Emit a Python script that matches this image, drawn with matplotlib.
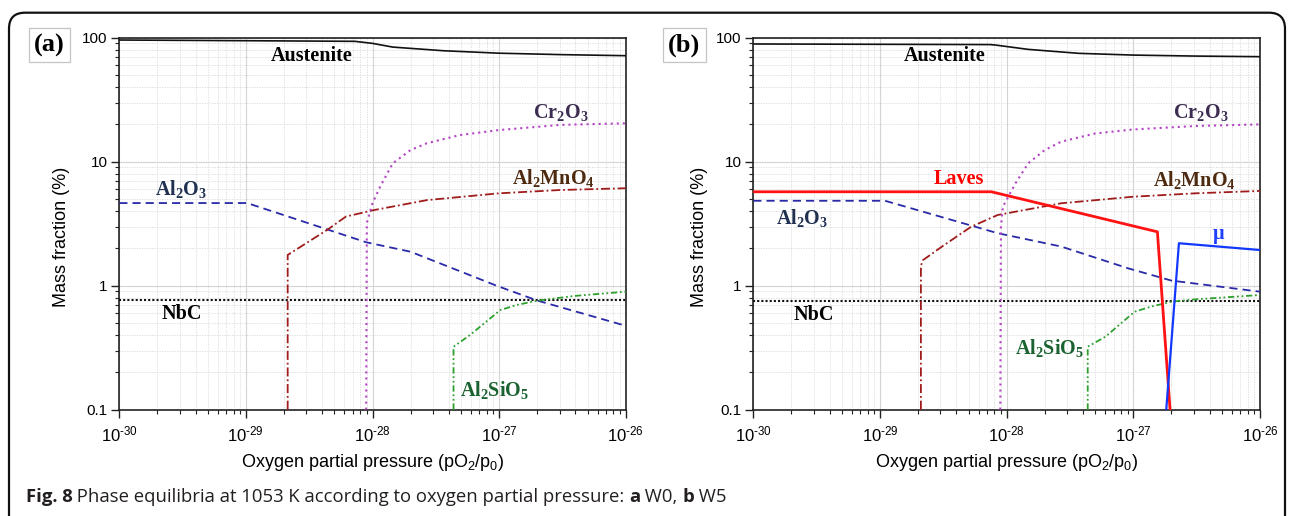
import matplotlib
matplotlib.use("Agg")
import numpy as np
import matplotlib.pyplot as plt
from matplotlib.patches import FancyBboxPatch
from matplotlib.transforms import IdentityTransform
from matplotlib.ticker import FixedLocator, LogLocator, NullFormatter, FuncFormatter

plt.rcParams["font.family"] = ["Liberation Sans", "DejaVu Sans"]
plt.rcParams["mathtext.fontset"] = "custom"
plt.rcParams["mathtext.rm"] = "Liberation Sans"
plt.rcParams["mathtext.it"] = "Liberation Sans:italic"
plt.rcParams["mathtext.bf"] = "Liberation Serif:bold"

# ---- data: x = log10(pO2/p0), y = mass fraction (%) ----
# (a) W0
aus_a_x = [-30.0, -28.14, -28.0, -27.84, -27.44, -27.0, -26.5, -26.0]
aus_a_y = [95.8, 93.5, 90.0, 84.0, 78.5, 75.0, 73.0, 71.6]
al2o3_a_x = [-30.0, -28.99, -28.05, -27.70, -27.02, -26.70, -26.0]
al2o3_a_y = [4.64, 4.64, 2.24, 1.88, 1.0, 0.76, 0.475]
nbc_a_x = [-30.0, -26.0]
nbc_a_y = [0.765, 0.765]
mn_a_x = [-28.67, -28.67, -28.36, -28.21, -27.99, -27.57, -27.0, -26.52, -26.0]
mn_a_y = [0.1, 1.77, 2.81, 3.61, 4.07, 4.90, 5.56, 5.91, 6.11]
cr_a_x = [-28.05, -28.045, -28.0, -27.94, -27.84, -27.70, -27.57, -27.31, -27.0, -26.52, -26.0]
cr_a_y = [0.1, 3.2, 4.62, 6.28, 9.70, 12.4, 14.1, 16.4, 18.0, 19.8, 20.4]
si_a_x = [-27.36, -27.36, -27.23, -26.99, -26.86, -26.70, -26.41, -26.0]
si_a_y = [0.1, 0.322, 0.40, 0.637, 0.70, 0.757, 0.826, 0.895]

# (b) W5
aus_b_x = [-30.0, -28.13, -28.09, -27.83, -27.43, -27.0, -26.51, -26.0]
aus_b_y = [89.0, 88.0, 87.3, 80.5, 74.8, 72.4, 71.1, 70.3]
laves_b_x = [-30.0, -28.12, -26.81, -26.71]
laves_b_y = [5.72, 5.72, 2.72, 0.1]
mu_b_x = [-26.74, -26.64, -26.0]
mu_b_y = [0.1, 2.20, 1.94]
al2o3_b_x = [-30.0, -28.96, -28.07, -27.57, -27.04, -26.70, -26.0]
al2o3_b_y = [4.84, 4.84, 2.65, 2.07, 1.38, 1.10, 0.895]
nbc_b_x = [-30.0, -26.0]
nbc_b_y = [0.753, 0.753]
mn_b_x = [-28.677, -28.677, -28.66, -28.51, -28.28, -28.07, -27.57, -27.0, -26.51, -26.0]
mn_b_y = [0.1, 1.45, 1.61, 2.07, 2.99, 3.72, 4.62, 5.22, 5.56, 5.81]
cr_b_x = [-28.05, -28.045, -28.03, -27.93, -27.83, -27.70, -27.57, -27.30, -27.0, -26.51, -26.0]
cr_b_y = [0.1, 3.0, 4.33, 6.7, 9.7, 12.4, 14.5, 16.9, 18.2, 19.4, 20.0]
si_b_x = [-27.36, -27.36, -27.22, -26.99, -26.86, -26.70, -26.51, -26.0]
si_b_y = [0.1, 0.322, 0.388, 0.617, 0.678, 0.743, 0.776, 0.841]

x_tick_exp = [-30, -29, -28, -27, -26]
y_ticks = [0.1, 1, 10, 100]
y_tick_labels = ["0.1", "1", "10", "100"]

W, H = 1293, 516
fig = plt.figure(figsize=(W / 100, H / 100), dpi=100)
fig.patch.set_facecolor("white")

ax_a = fig.add_axes([119.3 / W, (H - 409.7) / H, 506.4 / W, 372.0 / H])
ax_b = fig.add_axes([753.3 / W, (H - 409.7) / H, 506.7 / W, 372.0 / H])


def pw(v):
    return 10.0 ** np.asarray(v, dtype=float)


def x_fmt(v, pos):
    return r"$10^{\text{%d}}$" % round(np.log10(v))


def y_fmt(v, pos):
    i = int(np.argmin([abs(np.log10(t) - np.log10(v)) for t in y_ticks]))
    return y_tick_labels[i]


def style_axes(ax):
    ax.set_xscale("log")
    ax.set_yscale("log")
    ax.set_xlim(pw(x_tick_exp[0]), pw(x_tick_exp[-1]))
    ax.set_ylim(y_ticks[0], y_ticks[-1])
    ax.xaxis.set_major_locator(FixedLocator(pw(x_tick_exp)))
    ax.xaxis.set_major_formatter(FuncFormatter(x_fmt))
    ax.xaxis.set_minor_locator(LogLocator(base=10, subs=np.arange(2, 10), numticks=200))
    ax.xaxis.set_minor_formatter(NullFormatter())
    ax.yaxis.set_major_locator(FixedLocator(y_ticks))
    ax.yaxis.set_major_formatter(FuncFormatter(y_fmt))
    ax.yaxis.set_minor_locator(LogLocator(base=10, subs=np.arange(2, 10), numticks=200))
    ax.yaxis.set_minor_formatter(NullFormatter())
    ax.tick_params(which="major", direction="out", length=5.5, width=1.0, color="#222222",
                   labelsize=11, pad=3)
    ax.tick_params(which="minor", direction="out", length=3.0, width=0.8, color="#222222")
    ax.tick_params(axis="x", which="major", pad=5, labelsize=12)
    for s in ax.spines.values():
        s.set_linewidth(1.2)
        s.set_color("#222222")
    ax.grid(which="major", color="#d4d4d4", lw=0.8, ls="-")
    ax.grid(which="minor", color="#d9d9d9", lw=0.6, ls=(0, (1.5, 1.5)))
    ax.set_axisbelow(True)
    ax.set_xlabel(r"Oxygen partial pressure (pO$_2$/p$_0$)", fontsize=13)
    ax.set_ylabel("Mass fraction (%)", fontsize=13)
    ax.xaxis.set_label_coords(0.501, -0.114)


style_axes(ax_a)
style_axes(ax_b)
ax_a.yaxis.set_label_coords(-0.098, 0.464)
ax_b.yaxis.set_label_coords(-0.089, 0.464)

c_al2o3 = "#2a2aa8"
c_cr = "#b444c4"
c_mn = "#a01c1c"
c_si = "#2ea02e"

styles = {
    "aus": dict(color="#111111", lw=1.2, ls="-"),
    "al2o3": dict(color=c_al2o3, lw=1.3, ls=(0, (4.5, 2.8))),
    "nbc": dict(color="#111111", lw=1.5, ls=(0, (1.0, 1.0))),
    "mn": dict(color=c_mn, lw=1.3, ls=(0, (5.0, 1.6, 1.0, 1.6))),
    "cr": dict(color=c_cr, lw=1.5, ls=(0, (1.0, 1.9))),
    "si": dict(color=c_si, lw=1.3, ls=(0, (3.5, 1.5, 1.0, 1.5, 1.0, 1.5))),
}

for ax, series in (
    (ax_a, [("aus", aus_a_x, aus_a_y), ("nbc", nbc_a_x, nbc_a_y), ("al2o3", al2o3_a_x, al2o3_a_y),
            ("mn", mn_a_x, mn_a_y), ("cr", cr_a_x, cr_a_y), ("si", si_a_x, si_a_y)]),
    (ax_b, [("aus", aus_b_x, aus_b_y), ("nbc", nbc_b_x, nbc_b_y), ("al2o3", al2o3_b_x, al2o3_b_y),
            ("mn", mn_b_x, mn_b_y), ("cr", cr_b_x, cr_b_y), ("si", si_b_x, si_b_y)]),
):
    for key, xs, ys in series:
        ax.plot(pw(xs), ys, zorder=3, **styles[key])

ax_b.plot(pw(laves_b_x), laves_b_y, color="#ff1212", lw=2.0, zorder=4)
ax_b.plot(pw(mu_b_x), mu_b_y, color="#1238ff", lw=1.6, zorder=4)

serif = dict(family="Liberation Serif", weight="bold", fontsize=14.5)


def lab(ax, x, y, s, color, ha="left"):
    ax.text(x, y, s, transform=ax.transAxes, ha=ha, va="center", color=color, zorder=6, **serif)


# labels for (a)
lab(ax_a, 0.379, 0.950, "Austenite", "black", ha="center")
lab(ax_a, 0.0707, 0.593, r"$\mathbf{Al_2O_3}$", "#1f3050")
lab(ax_a, 0.817, 0.800, r"$\mathbf{Cr_2O_3}$", "#3c2c52")
lab(ax_a, 0.775, 0.623, r"$\mathbf{Al_2MnO_4}$", "#4e2a10")
lab(ax_a, 0.0837, 0.256, "NbC", "black")
lab(ax_a, 0.673, 0.054, r"$\mathbf{Al_2SiO_5}$", "#1a6230")

# labels for (b)
lab(ax_b, 0.378, 0.950, "Austenite", "black", ha="center")
lab(ax_b, 0.405, 0.620, "Laves", "#ff0000", ha="center")
lab(ax_b, 0.0448, 0.516, r"$\mathbf{Al_2O_3}$", "#1f3050")
lab(ax_b, 0.8283, 0.800, r"$\mathbf{Cr_2O_3}$", "#3c2c52")
lab(ax_b, 0.789, 0.618, r"$\mathbf{Al_2MnO_4}$", "#4e2a10")
lab(ax_b, 0.917, 0.471, "\u03bc", "#1f3fff", ha="center")
lab(ax_b, 0.0803, 0.254, "NbC", "black")
lab(ax_b, 0.516, 0.167, r"$\mathbf{Al_2SiO_5}$", "#1a6230")

# panel tags
for xc, tag in ((49.3, "(a)"), (684.3, "(b)")):
    fig.text(xc / W, (H - 45.0) / H, tag, ha="center", va="center", family="Liberation Serif",
             weight="bold", fontsize=19,
             bbox=dict(boxstyle="square,pad=0.2", fc="white", ec="#c4c4c4", lw=0.9))

# outer rounded frame
frame = FancyBboxPatch((9.0, -30.0), 1276.0, H - 12.7 + 30.0,
                       boxstyle="round,pad=0,rounding_size=16",
                       transform=IdentityTransform(), fill=False, ec="#111111", lw=1.6)
fig.patches.append(frame)

# caption
renderer = fig.canvas.get_renderer()
pieces = [("Fig. 8", "bold"),
          (" Phase equilibria at 1053 K according to oxygen partial pressure: ", "normal"),
          ("a", "bold"), (" W0, ", "normal"), ("b", "bold"), (" W5", "normal")]
xpos = 25.5
for s, w in pieces:
    t = fig.text(xpos / W, (H - 501.5) / H, s, ha="left", va="baseline", weight=w,
                 family="Open Sans", fontsize=13.3, color="#231f20")
    xpos = t.get_window_extent(renderer).x1

fig.savefig("out.png", dpi=100, facecolor="white")
